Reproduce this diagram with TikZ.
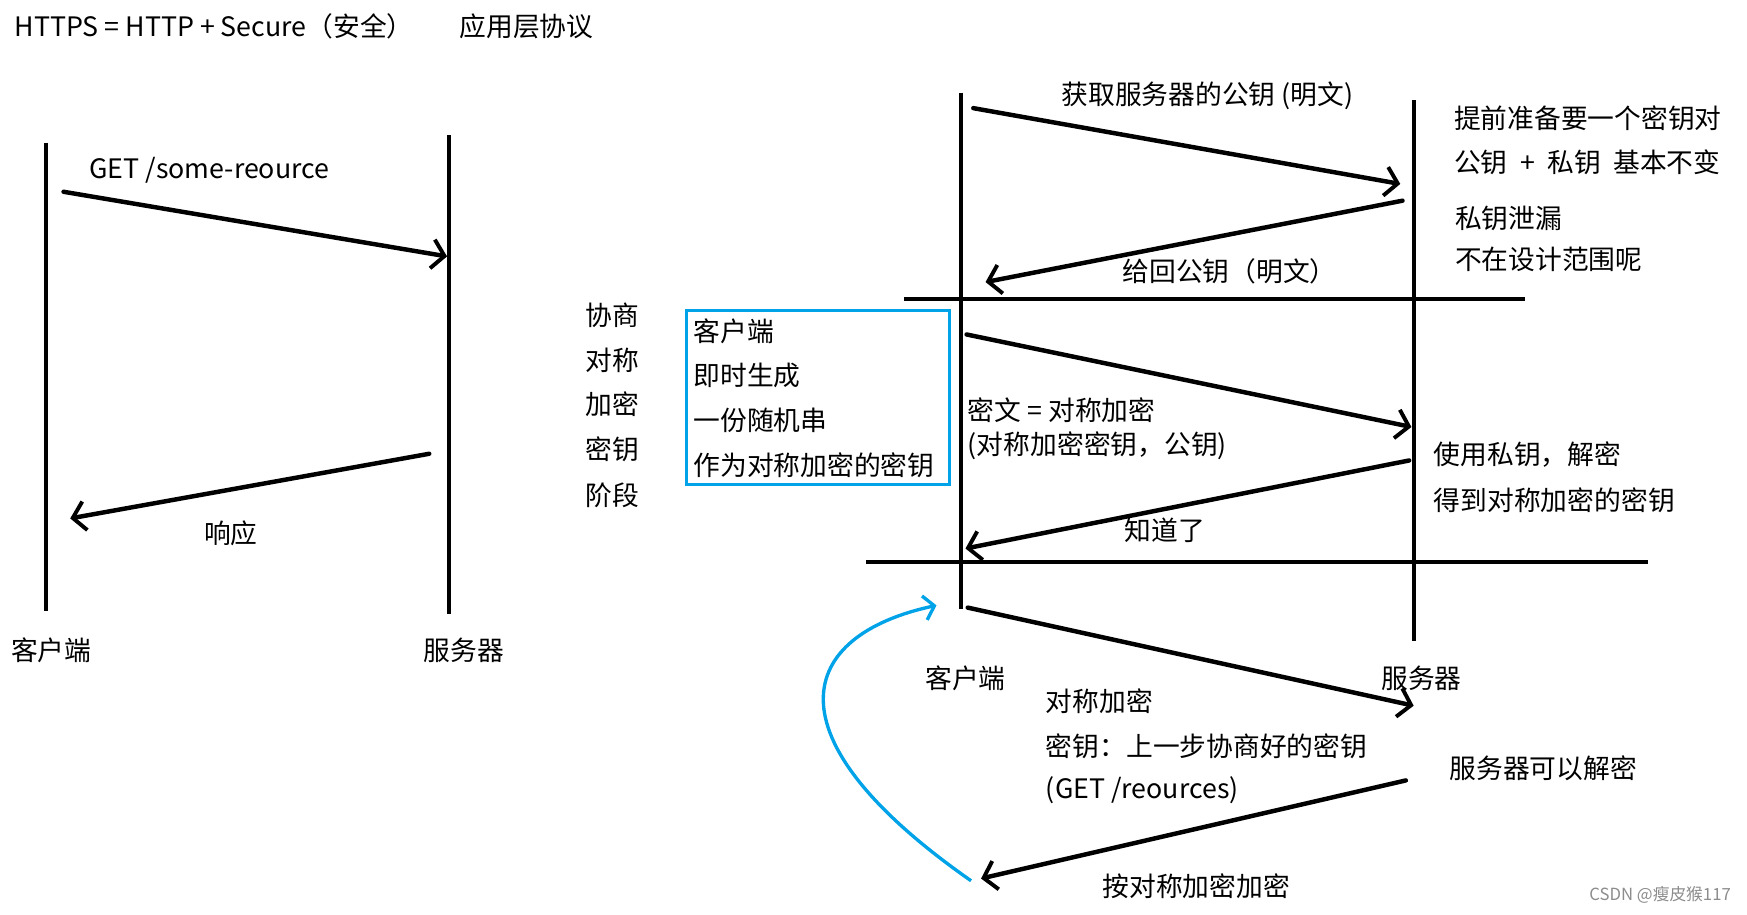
\documentclass[tikz,border=0pt]{standalone}
\usepackage{fontspec}
\setmainfont{Noto Sans CJK SC}
\usetikzlibrary{arrows.meta, positioning}
\definecolor{paintblue}{RGB}{0,162,232}

\begin{document}
\begin{tikzpicture}[
    x=1pt, y=-1pt,
    font=\fontsize{24}{27}\selectfont,
    life/.style={line width=3.5pt},
    sep/.style={line width=3.5pt},
    msg/.style={line width=4pt, line cap=round,
        -{Straight Barb[length=11pt, width=26pt, line width=3.5pt]}},
    txt/.style={anchor=west, inner sep=0pt},
    keybox/.style={draw=paintblue, line width=3pt, inner sep=0pt},
    loopback/.style={draw=paintblue, line width=3pt,
        -{Straight Barb[length=9pt, width=22pt, line width=3pt]}}
]
   \useasboundingbox (0,0) rectangle (1567,820);

   % Title
   \node[txt] (title) at (13,24) {HTTPS = HTTP + Secure（安全）};
   \node[txt] (layer) at (412,24) {应用层协议};

   % Plain HTTP: lifelines
   \coordinate (c1top) at (41,128);
   \coordinate (c1bot) at (41,548);
   \coordinate (s1top) at (403,121);
   \coordinate (s1bot) at (403,551);
   \draw[life] (c1top) -- (c1bot);
   \draw[life] (s1top) -- (s1bot);
   \node (cname1) at (46,583) {客户端};
   \node (sname1) at (416,583) {服务器};

   % Plain HTTP: messages
   \coordinate (get0) at (57,172);
   \coordinate (get1) at (401,230);
   \coordinate (resp0) at (385,407);
   \coordinate (resp1) at (63,465);
   \path[msg]
   (get0) edge (get1)
   (resp0) edge (resp1);
   \node[txt] (getlbl) at (80,153) {GET /some-reource};
   \node (resplbl) at (207,478) {响应};

   % HTTPS: lifelines and phase lines
   \coordinate (c2top) at (862,83);
   \coordinate (c2bot) at (862,546);
   \coordinate (s2top) at (1268,90);
   \coordinate (s2bot) at (1268,575);
   \draw[life] (c2top) -- (c2bot);
   \draw[life] (s2top) -- (s2bot);
   \coordinate (sepA0) at (811,268);
   \coordinate (sepA1) at (1368,268);
   \coordinate (sepB0) at (777,504);
   \coordinate (sepB1) at (1478,504);
   \draw[sep] (sepA0) -- (sepA1);
   \draw[sep] (sepB0) -- (sepB1);
   \node (cname2) at (866,608) {客户端};
   \node (sname2) at (1275,608) {服务器};

   % HTTPS: messages
   \coordinate (m1a) at (873,97);
   \coordinate (m1b) at (1256,165);
   \coordinate (m2a) at (1258,180);
   \coordinate (m2b) at (884,253);
   \coordinate (m3a) at (867,300);
   \coordinate (m3b) at (1266,383);
   \coordinate (m4a) at (1264,413);
   \coordinate (m4b) at (866,492);
   \coordinate (m5a) at (868,545);
   \coordinate (m5b) at (1268,633);
   \coordinate (m6a) at (1261,700);
   \coordinate (m6b) at (880,788);
   \path[msg]
   (m1a) edge (m1b)
   (m2a) edge (m2b)
   (m3a) edge (m3b)
   (m4a) edge (m4b)
   (m5a) edge (m5b)
   (m6a) edge (m6b);

   \node (m1lbl) at (1083,86) {获取服务器的公钥 (明文)};
   \node (m2lbl) at (1103,243) {给回公钥（明文）};
   \node (m4lbl) at (1045,476) {知道了};
   \node (m6lbl) at (1073,795) {按对称加密加密};

   % Server side notes
   \node[txt] (note1) at (1304,106) {提前准备要一个密钥对};
   \node[txt] (note2) at (1304,146) {公钥\hspace{0.25em} +\hspace{0.25em} 私钥\ \ 基本不变};
   \node[txt] (note3) at (1305,196) {私钥泄漏};
   \node[txt] (note4) at (1305,233) {不在设计范围呢};
   \node[txt] (note5) at (1286,408) {使用私钥，解密};
   \node[txt] (note6) at (1286,449) {得到对称加密的密钥};
   \node[txt] (note7) at (1300,689) {服务器可以解密};

   % Negotiation phase
   \node (ph1) at (549,283) {协商};
   \node (ph2) at (549,323) {对称};
   \node (ph3) at (549,363) {加密};
   \node (ph4) at (549,403) {密钥};
   \node (ph5) at (549,444) {阶段};
   \node[keybox, minimum width=236pt, minimum height=156pt, anchor=north west]
      (gen) at (614,277) {};
   \node[txt] (gen1) at (622,297) {客户端};
   \node[txt] (gen2) at (622,337) {即时生成};
   \node[txt] (gen3) at (622,377) {一份随机串};
   \node[txt] (gen4) at (622,417) {作为对称加密的密钥};
   \node[txt] (ciph1) at (868,368) {密文 = 对称加密};
   \node[txt] (ciph2) at (868,400) {(对称加密密钥，公钥)};

   % Data phase
   \node[txt] (data1) at (938,629) {对称加密};
   \node[txt] (data2) at (938,669) {密钥：上一步协商好的密钥};
   \node[txt] (data3) at (938,709) {(GET /reources)};
   \coordinate (back0) at (871,790);
   \coordinate (back1) at (840,543);
   \draw[loopback] (back0) .. controls (685,660) and (715,570) .. (back1);

   % Watermark
   \node[anchor=east, text=black!45, font=\fontsize{15}{18}\selectfont]
      (mark) at (1556,803) {CSDN @瘦皮猴117};
\end{tikzpicture}
\end{document}
